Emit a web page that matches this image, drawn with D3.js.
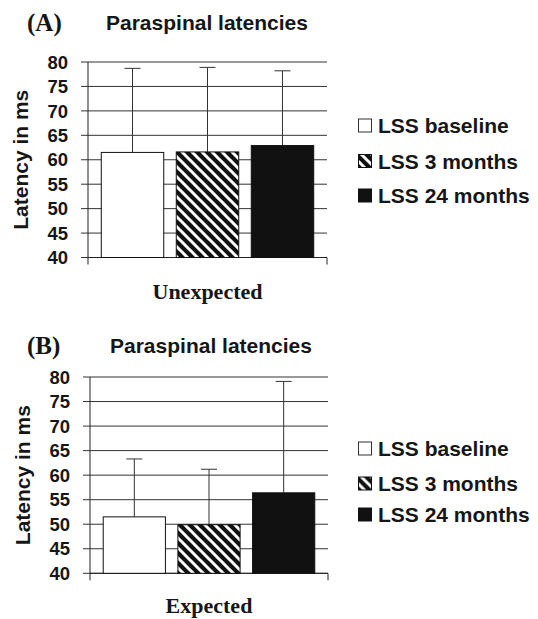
<!DOCTYPE html>
<html>
<head>
<meta charset="utf-8">
<script src="https://cdn.jsdelivr.net/npm/d3@7"></script>
<style>
  body { margin: 0; background: #fff; }
  svg text { fill: #161616; }
  .sans { font-family: "Liberation Sans", Arial, sans-serif; font-weight: bold; }
  .serif { font-family: "Liberation Serif", "Times New Roman", serif; font-weight: bold; }
</style>
</head>
<body>
<svg id="chart"></svg>
<script>
var width = 538;
var height = 619;

// data
var series = ["LSS baseline", "LSS 3 months", "LSS 24 months"];
var unexpectedMeans = [61.5, 61.6, 62.9];
var unexpectedUpper = [78.7, 78.9, 78.2];
var expectedMeans = [51.5, 49.9, 56.4];
var expectedUpper = [63.3, 61.2, 79.1];
var yTicks = [40, 45, 50, 55, 60, 65, 70, 75, 80];

var svg = d3.select("#chart")
    .attr("width", width)
    .attr("height", height);

// hatch for the 3 months series
var defs = svg.append("defs");
var hatch = defs.append("pattern")
    .attr("id", "hatch")
    .attr("patternUnits", "userSpaceOnUse")
    .attr("width", 10)
    .attr("height", 10);
hatch.append("rect")
    .attr("width", 10)
    .attr("height", 10)
    .attr("fill", "#111");
hatch.append("path")
    .attr("d", "M-2,-2L12,12M-2,8L2,12M8,-2L12,2")
    .attr("stroke", "#fff")
    .attr("stroke-width", 3);

var fills = ["#fff", "url(#hatch)", "#111"];

function drawPanel(opt) {
    var g = svg.append("g");

    var y = d3.scaleLinear()
        .domain([40, 80])
        .range([opt.bottom, opt.top]);

    var x = d3.scaleBand()
        .domain(series)
        .range([opt.left, opt.right])
        .paddingInner(0.167)
        .paddingOuter(0.177);

    // gridlines + left ticks
    g.selectAll(".grid")
        .data(yTicks)
        .enter().append("line")
        .attr("x1", opt.left - 7)
        .attr("x2", opt.right)
        .attr("y1", d => y(d))
        .attr("y2", d => y(d))
        .attr("stroke", "#333")
        .attr("stroke-width", 1);

    g.selectAll(".ytick")
        .data(yTicks)
        .enter().append("text")
        .attr("class", "sans")
        .attr("x", opt.left - 20)
        .attr("y", d => y(d))
        .attr("dy", "0.36em")
        .attr("text-anchor", "end")
        .style("font-size", "18.5px")
        .text(d => d);

    // axis lines
    g.append("line")
        .attr("x1", opt.left).attr("x2", opt.left)
        .attr("y1", opt.top).attr("y2", opt.bottom + 7)
        .attr("stroke", "#222");
    g.append("line")
        .attr("x1", opt.left).attr("x2", opt.right)
        .attr("y1", opt.bottom).attr("y2", opt.bottom)
        .attr("stroke", "#222");
    g.append("line")
        .attr("x1", opt.right).attr("x2", opt.right)
        .attr("y1", opt.bottom).attr("y2", opt.bottom + 7)
        .attr("stroke", "#222");

    // error bars (upper only)
    var err = g.selectAll(".err")
        .data(series)
        .enter().append("g");
    err.append("line")
        .attr("x1", d => x(d) + x.bandwidth() / 2)
        .attr("x2", d => x(d) + x.bandwidth() / 2)
        .attr("y1", (d, i) => y(opt.means[i]))
        .attr("y2", (d, i) => y(opt.upper[i]))
        .attr("stroke", "#333");
    err.append("line")
        .attr("x1", d => x(d) + x.bandwidth() / 2 - 8)
        .attr("x2", d => x(d) + x.bandwidth() / 2 + 8)
        .attr("y1", (d, i) => y(opt.upper[i]))
        .attr("y2", (d, i) => y(opt.upper[i]))
        .attr("stroke", "#333");

    // bars
    g.selectAll(".bar")
        .data(series)
        .enter().append("rect")
        .attr("x", d => x(d))
        .attr("width", x.bandwidth())
        .attr("y", (d, i) => y(opt.means[i]))
        .attr("height", (d, i) => y(40) - y(opt.means[i]))
        .attr("fill", (d, i) => fills[i])
        .attr("stroke", "#111")
        .attr("stroke-width", 1);

    // titles
    g.append("text")
        .attr("class", "serif")
        .attr("x", 27)
        .attr("y", opt.titleY + 1)
        .style("font-size", "25px")
        .text(opt.letter);
    g.append("text")
        .attr("class", "sans")
        .attr("x", opt.titleX)
        .attr("y", opt.titleY)
        .style("font-size", "21px")
        .text("Paraspinal latencies");

    g.append("text")
        .attr("class", "sans")
        .attr("transform", "translate(" + opt.ylabX + "," + (opt.top + opt.bottom) / 2 + ") rotate(-90)")
        .attr("text-anchor", "middle")
        .style("font-size", "21px")
        .text("Latency in ms");

    g.append("text")
        .attr("class", "serif")
        .attr("x", (opt.left + opt.right) / 2)
        .attr("y", opt.xlabY)
        .attr("text-anchor", "middle")
        .style("font-size", "22px")
        .text(opt.category);

    // legend
    var leg = g.selectAll(".leg")
        .data(series)
        .enter().append("g")
        .attr("transform", (d, i) => "translate(358," + opt.legendY[i] + ")");
    leg.append("rect")
        .attr("x", 0.5)
        .attr("y", -6.5)
        .attr("width", 13)
        .attr("height", 13)
        .attr("fill", (d, i) => fills[i])
        .attr("stroke", (d, i) => i == 0 ? "#333" : "#111");
    leg.append("text")
        .attr("class", "sans")
        .attr("x", 20)
        .attr("y", 7.5)
        .style("font-size", "21px")
        .text(d => d);
}

drawPanel({
    letter: "(A)",
    category: "Unexpected",
    means: unexpectedMeans,
    upper: unexpectedUpper,
    left: 88, right: 327, top: 62, bottom: 257.5,
    titleX: 106, titleY: 30,
    ylabX: 28, xlabY: 298.5,
    legendY: [125.5, 161, 195.5]
});

drawPanel({
    letter: "(B)",
    category: "Expected",
    means: expectedMeans,
    upper: expectedUpper,
    left: 90, right: 328, top: 377, bottom: 573.3,
    titleX: 110, titleY: 353,
    ylabX: 30, xlabY: 613,
    legendY: [448.5, 483.5, 514.5]
});
</script>
</body>
</html>
